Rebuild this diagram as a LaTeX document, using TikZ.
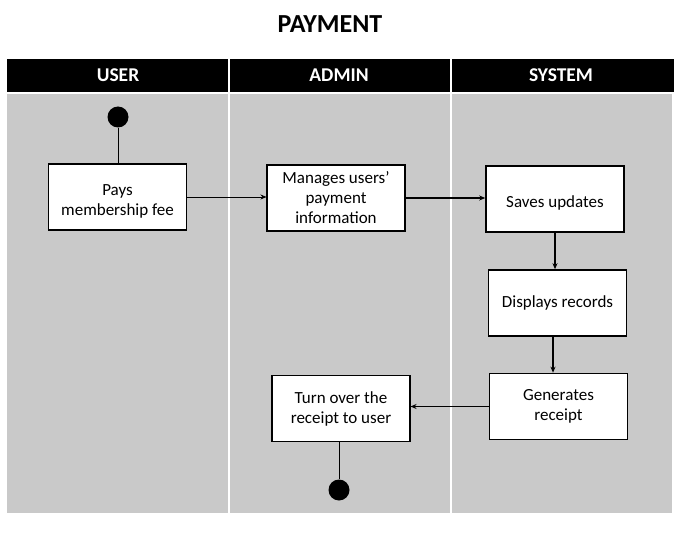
\documentclass[tikz,border=0pt]{standalone}
\usepackage{fontspec}
\setmainfont{Carlito}
\usetikzlibrary{arrows.meta}
\definecolor{lanegray}{HTML}{C9C9C9}
\tikzset{
  x=1pt, y=-1pt,
  boxtext/.style={align=center, font=\fontsize{17}{20}\selectfont, inner sep=0pt},
  actbox/.style={draw=black, fill=white, line width=1.4pt, minimum width=138pt, minimum height=66pt, align=center, font=\fontsize{17}{20}\selectfont, inner sep=2pt},
  dot/.style={circle, fill=black, minimum size=21pt, inner sep=0pt},
  flow/.style={-{Stealth[length=6pt,width=5pt]}, line width=1pt},
  lanehead/.style={font=\fontsize{19.5}{22}\selectfont\bfseries, text=white}
}
\begin{document}
\begin{tikzpicture}
\useasboundingbox (0,0) rectangle (696,556);
\fill[white] (0,0) rectangle (696,556);
% title
\node[font=\fontsize{26}{30}\selectfont\bfseries] (title) at (330,24) {PAYMENT};
% header
\fill[black] (7,59) rectangle (674,92);
\fill[lanegray] (7,94) rectangle (672,513);
\draw[white, line width=1.6pt] (229,59) -- (229,513);
\draw[white, line width=1.6pt] (451,59) -- (451,513);
\node[lanehead] (huser) at (118,75) {USER};
\node[lanehead] (hadmin) at (339,75) {ADMIN};
\node[lanehead] (hsys) at (561,75) {SYSTEM};
% nodes
\node[dot] (start) at (118,117) {};
\node[actbox] (pays) at (117.5,197) {};
\node[boxtext] (payst) at (117.5,201) {Pays\\membership fee};
\node[actbox, line width=1.1pt] (manage) at (336,198) {Manages users’\\payment\\information};
\node[actbox, line width=1.6pt] (saves) at (555,199) {};
\node[boxtext] (savest) at (555,203) {Saves updates};
\node[actbox, line width=1.6pt] (disp) at (557.5,303) {Displays records};
\node[actbox, line width=1.6pt] (gen) at (558.5,406.5) {Generates\\receipt};
\node[actbox, line width=1.1pt] (turn) at (341,408.5) {Turn over the\\receipt to user};
\node[dot] (end) at (339,490) {};
% connectors
\draw[line width=0.9pt] (start) -- (start |- pays.north);
\draw[flow, line width=0.8pt] (pays.east) -- (manage.west |- pays.east);
\draw[flow, line width=1.4pt] (manage.east) -- (saves.west |- manage.east);
\draw[flow, line width=1.4pt] (saves.south -| 555,0) -- (disp.north -| 555,0);
\draw[flow, line width=1.4pt] (disp.south -| 553,0) -- (gen.north -| 553,0);
\draw[flow, line width=1pt] (gen.west) -- (turn.east |- gen.west);
\draw[line width=0.9pt] (turn.south -| end) -- (end);
\end{tikzpicture}
\end{document}
